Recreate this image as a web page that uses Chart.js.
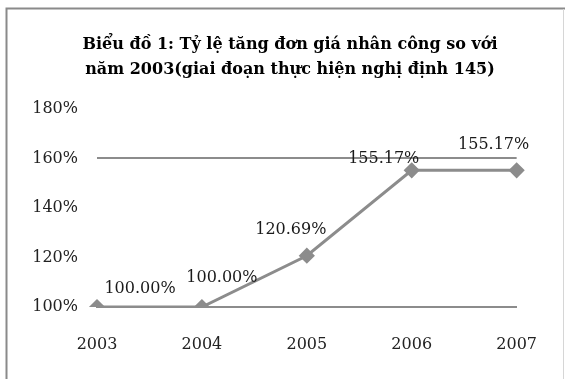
<!DOCTYPE html>
<html lang="vi">
<head>
<meta charset="utf-8">
<title>Biểu đồ 1</title>
<script src="https://cdn.jsdelivr.net/npm/chart.js@4/dist/chart.umd.min.js"></script>
<style>
  html, body { margin: 0; padding: 0; background: #ffffff; }
  #wrap { position: relative; width: 565px; height: 379px; }
  canvas { display: block; }
</style>
</head>
<body>
<div id="wrap"><canvas id="chart" width="565" height="379"></canvas></div>
<script>
// Years on the horizontal axis
const years = ['2003', '2004', '2005', '2006', '2007'];
// Labour unit-price ratio relative to 2003, in percent
const ratioPercent = [100.00, 100.00, 120.69, 155.17, 155.17];
// Vertical axis range and step, in percent
const yMin = 100;
const yMax = 180;
const yStep = 20;
// Horizontal reference lines drawn across the plot
const gridLineValues = [160];

const titleLines = [
  'Biểu đồ 1: Tỷ lệ tăng đơn giá nhân công so với',
  'năm 2003(giai đoạn thực hiện nghị định 145)'
];

const grey = '#8c8c8c';
const textFont = 'DejaVu Serif';

// Label nudges (dx, dy) per point so the value text sits clear of the line
const labelNudges = [[43, -18], [20, -29], [-16, -26], [-28, -11], [-23, -25]];

const valueLabels = {
  id: 'valueLabels',
  afterDatasetsDraw(chart) {
    const ctx = chart.ctx;
    const meta = chart.getDatasetMeta(0);
    ctx.save();
    ctx.font = '16px "' + textFont + '"';
    ctx.fillStyle = '#1a1a1a';
    ctx.textAlign = 'center';
    ctx.textBaseline = 'middle';
    meta.data.forEach((pt, i) => {
      const v = chart.data.datasets[0].data[i];
      const n = labelNudges[i] || [0, -14];
      ctx.fillText(v.toFixed(2) + '%', pt.x + n[0], pt.y + n[1]);
    });
    ctx.restore();
  }
};

// Two-line heading, centred over the chart object
const heading = {
  id: 'heading',
  afterDraw(chart) {
    const ctx = chart.ctx;
    ctx.save();
    ctx.font = 'bold 16px "' + textFont + '"';
    ctx.fillStyle = '#000000';
    ctx.textAlign = 'center';
    ctx.textBaseline = 'middle';
    titleLines.forEach((line, i) => ctx.fillText(line, 290, 45 + i * 25));
    ctx.restore();
  }
};

// Thin frame around the chart object
const frame = {
  id: 'frame',
  beforeDraw(chart) {
    const ctx = chart.ctx;
    ctx.save();
    ctx.fillStyle = '#ffffff';
    ctx.fillRect(0, 0, chart.width, chart.height);
    ctx.strokeStyle = '#8a8a8a';
    ctx.lineWidth = 2;
    ctx.beginPath();
    ctx.moveTo(6.5, chart.height);
    ctx.lineTo(6.5, 8.5);
    ctx.lineTo(chart.width, 8.5);
    ctx.stroke();
    ctx.strokeStyle = '#d6d6d6';
    ctx.lineWidth = 1;
    ctx.beginPath();
    ctx.moveTo(563.5, 9);
    ctx.lineTo(563.5, chart.height);
    ctx.stroke();
    ctx.restore();
  }
};

new Chart(document.getElementById('chart'), {
  type: 'line',
  data: {
    labels: years,
    datasets: [{
      data: ratioPercent,
      borderColor: grey,
      backgroundColor: grey,
      borderWidth: 3,
      tension: 0,
      pointStyle: 'rectRot',
      pointRadius: 6,
      pointHoverRadius: 6,
      pointBackgroundColor: grey,
      pointBorderColor: grey,
      fill: false
    }]
  },
  options: {
    responsive: false,
    animation: false,
    events: [],
    layout: { padding: { left: 15, right: 37, top: 108.8, bottom: 0 } },
    plugins: {
      legend: { display: false },
      tooltip: { enabled: false },
      title: { display: false }
    },
    scales: {
      x: {
        offset: false,
        grid: { display: false, drawTicks: false },
        border: { display: true, color: grey, width: 2 },
        ticks: {
          color: '#222222',
          font: { family: textFont, size: 16 },
          padding: 28,
          maxRotation: 0,
          autoSkip: false
        },
        afterFit(scale) { scale.height = 72; }
      },
      y: {
        min: yMin,
        max: yMax,
        grid: {
          drawTicks: false,
          lineWidth: 2,
          color: (c) => (c.tick && gridLineValues.includes(c.tick.value)) ? grey : 'rgba(0,0,0,0)'
        },
        border: { display: false },
        ticks: {
          stepSize: yStep,
          color: '#222222',
          font: { family: textFont, size: 16 },
          padding: 19,
          callback: (v) => v + '%'
        },
        afterFit(scale) { scale.width = 82; }
      }
    }
  },
  plugins: [frame, valueLabels, heading]
});
</script>
</body>
</html>
